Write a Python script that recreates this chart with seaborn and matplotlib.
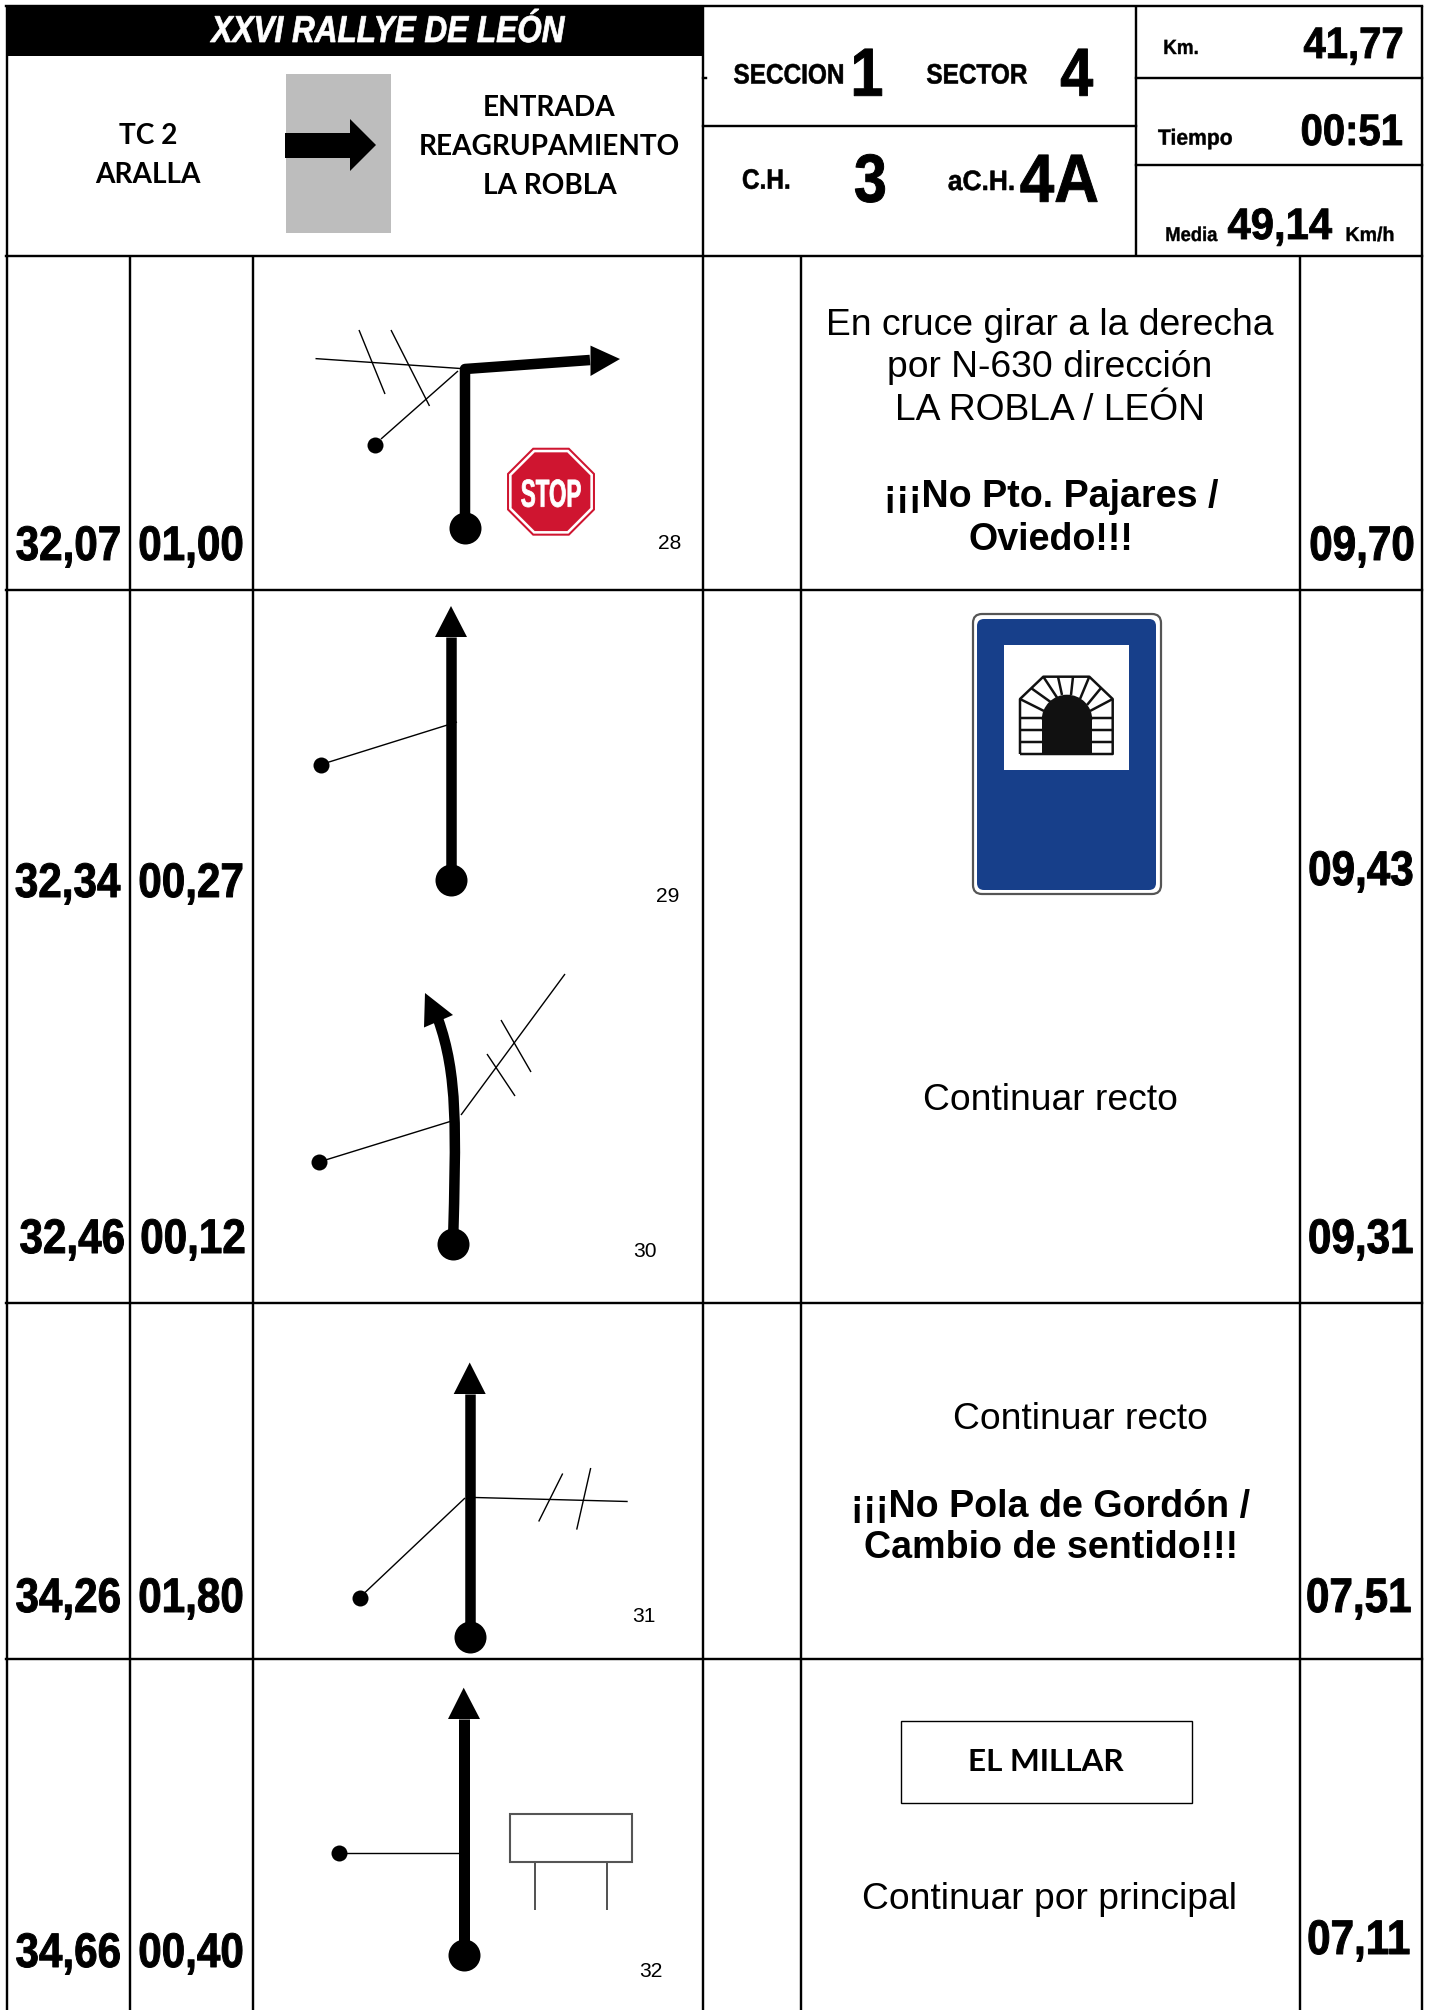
import matplotlib
matplotlib.use("Agg")
import matplotlib.pyplot as plt
from matplotlib.colors import to_rgba
from matplotlib.patches import FancyBboxPatch, PathPatch, Rectangle, RegularPolygon, Wedge
from matplotlib.path import Path
from matplotlib.text import Text
from matplotlib.textpath import TextPath
from matplotlib.transforms import Affine2D, Bbox
import numpy as np
import seaborn as sns

# roadbook values
km_total = ["32,07", "32,34", "32,46", "34,26", "34,66"]
km_partial = ["01,00", "00,27", "00,12", "01,80", "00,40"]
km_left = ["09,70", "09,43", "09,31", "07,51", "07,11"]
box_numbers = ["28", "29", "30", "31", "32"]

title = "XXVI RALLYE DE LEÓN"
entry_left = ["TC 2", "ARALLA"]
entry_right = ["ENTRADA", "REAGRUPAMIENTO", "LA ROBLA"]
note_1 = ["En cruce girar a la derecha", "por N-630 dirección", "LA ROBLA / LEÓN"]
note_1_bold = ["¡¡¡No Pto. Pajares /", "Oviedo!!!"]
note_3 = "Continuar recto"
note_4 = "Continuar recto"
note_4_bold = ["¡¡¡No Pola de Gordón /", "Cambio de sentido!!!"]
note_5_box = "EL MILLAR"
note_5 = "Continuar por principal"

# positions, in pixels of the page
total_xy = [(68, 560), (68, 897), (72, 1253), (68, 1612), (68, 1967)]
partial_xy = [(191, 560), (191, 897), (193, 1253), (191, 1612), (191, 1967)]
left_xy = [(1362, 560), (1361, 885), (1361, 1253), (1359, 1612), (1359, 1954)]
number_xy = [(670, 549), (668, 902), (645, 1257), (644, 1622), (651, 1977)]

ARIAL = ["Liberation Sans"]
CALIBRI = ["Lato"]

sns.set_theme(style="white")
fig, ax = plt.subplots(figsize=(14.3, 20.1), dpi=100)
fig.subplots_adjust(0, 0, 1, 1)
ax.set_facecolor("white")


class NarrowText(Text):
    # no hay Arial Narrow instalada: texto normal comprimido en horizontal
    sx = 0.87

    def draw(self, renderer):
        k = renderer.points_to_pixels(1.0)
        tp = TextPath((0, 0), self.get_text(), size=self.get_fontsize(), prop=self.get_fontproperties())
        bb = tp.get_extents()
        x, y = self.get_transform().transform(self.get_position())
        tr = Affine2D().scale(self.sx * k, k).translate(x - self.sx * k * (bb.x0 + bb.x1) / 2, y)
        rgba = to_rgba(self.get_color())
        gc = renderer.new_gc()
        gc.set_foreground(rgba)
        gc.set_linewidth(min(0.7, self.get_fontsize() * 0.02))
        renderer.draw_path(gc, tp, tr, rgbFace=rgba)
        gc.restore()

    def get_window_extent(self, renderer=None, dpi=None):
        b = super().get_window_extent(renderer, dpi)
        cx = (b.x0 + b.x1) / 2
        w = b.width * self.sx / 2
        return Bbox([[cx - w, b.y0], [cx + w, b.y1]])


def txt(x, y, s, px, family=ARIAL, weight="bold", style="normal", color="black"):
    ax.text(x, y, s, fontsize=px * 0.72, family=family, weight=weight, style=style,
            color=color, ha="center", va="baseline")


def ntxt(x, y, s, px, sx=0.87, style="normal", color="black"):
    t = NarrowText(x, y, s, fontsize=px * 0.72, family=ARIAL, weight="bold", style=style,
                   color=color, ha="center", va="baseline", zorder=6)
    t.sx = sx
    ax.add_artist(t)


def line(xs, ys, w=1.4, color="black", cap="butt"):
    sns.lineplot(x=xs, y=ys, sort=False, estimator=None, color=color, linewidth=w * 0.72,
                 solid_capstyle=cap, legend=False, ax=ax)


def road(xs, ys, head, w=10.5):
    # trazo grueso con punta de flecha y punto de salida
    line(xs, ys, w=w)
    ax.fill([p[0] for p in head], [p[1] for p in head], color="black", lw=0, zorder=4)
    sns.scatterplot(x=[xs[0]], y=[ys[0]], s=(32 * 0.72) ** 2, color="black", linewidth=0,
                    legend=False, ax=ax, zorder=4)


def dots(xs, ys):
    sns.scatterplot(x=xs, y=ys, s=(16 * 0.72) ** 2, color="black", linewidth=0,
                    legend=False, ax=ax, zorder=4)


# cabecera
ax.add_patch(Rectangle((6, 6), 697, 50, color="black", lw=0))
ax.add_patch(Rectangle((286, 74), 105, 159, color="#bdbdbd", lw=0))
ax.fill([285, 350, 350, 376, 350, 350, 285], [133, 133, 119, 145, 171, 158, 158], color="black", lw=0)

# rejilla
RIGHT = 1422
H_LINES = [(6, RIGHT, 6), (6, RIGHT, 255.5), (6, RIGHT, 589.5), (6, RIGHT, 1302.5), (6, RIGHT, 1659),
           (703, 1136, 125.5), (1136, RIGHT, 77.5), (1136, RIGHT, 165), (703, 706, 77.5)]
V_LINES = [(6.5, 6, 2010), (703, 6, 2010), (RIGHT, 6, 2010), (1136, 6, 255),
           (130, 255.5, 2010), (253, 255.5, 2010), (801, 255.5, 2010), (1300, 255.5, 2010)]
for x0, x1, y in H_LINES:
    line([x0, x1], [y, y], w=2.4, cap="projecting")
for x, y0, y1 in V_LINES:
    line([x, x], [y0, y1], w=2.4, cap="butt")

# textos de cabecera
ntxt(387.5, 42, title, 37.5, sx=0.84, style="italic", color="white")
for s, y in zip(entry_left, [143.5, 182.5]):
    txt(148, y, s, 28, family=CALIBRI)
for s, y in zip(entry_right, [116, 155, 194]):
    txt(549.5, y, s, 28, family=CALIBRI)

ntxt(788.5, 83.5, "SECCION", 28)
ntxt(868, 95.7, "1", 68)
ntxt(977, 83.5, "SECTOR", 28)
ntxt(1077, 95.7, "4", 68)
ntxt(766, 188.7, "C.H.", 28)
ntxt(870, 201.7, "3", 68)
ntxt(981, 190, "aC.H.", 28, sx=0.94)
ntxt(1059, 201.7, "4A", 68, sx=0.91)
ntxt(1181, 54, "Km.", 20.5, sx=0.92)
ntxt(1353, 58, "41,77", 44, sx=0.91)
ntxt(1195, 144.7, "Tiempo", 22, sx=0.96)
ntxt(1352, 145, "00:51", 44, sx=0.91)
ntxt(1192, 241, "Media", 20, sx=0.92)
ntxt(1280, 239, "49,14", 44, sx=0.95)
ntxt(1370, 241, "Km/h", 20, sx=0.98)

# columnas de distancias
for vals, coords in [(km_total, total_xy), (km_partial, partial_xy), (km_left, left_xy)]:
    for s, (x, y) in zip(vals, coords):
        ntxt(x, y, s, 48.5)
for s, (x, y) in zip(box_numbers, number_xy):
    txt(x, y, s, 21, weight="normal")

# notas
for s, y in zip(note_1, [335, 377, 420]):
    txt(1050, y, s, 37.3, weight="normal")
for s, y in zip(note_1_bold, [507, 550]):
    txt(1051, y, s, 37.6)
txt(1050, 1110, note_3, 37.3, weight="normal")
txt(1080, 1429, note_4, 37.3, weight="normal")
for s, y in zip(note_4_bold, [1517, 1558]):
    txt(1051, y, s, 37.6)
ax.add_patch(Rectangle((901, 1721), 291, 82, fc="white", ec="black", lw=1.0))
txt(1046, 1771, note_5_box, 31.5, family=CALIBRI)
txt(1050, 1909, note_5, 37.3, weight="normal")

# viñeta 28
road([465, 465, 590], [528, 369, 360], [(590.5, 345.6), (620, 359), (590.5, 376)])
line([315.5, 460.5], [358.6, 368.5])
line([359, 385], [330, 394])
line([391, 429.5], [330, 406])
line([458, 381], [371, 439])
dots([375], [445])
for r, c in [(47.6, "#cf1530"), (45.4, "white"), (42.6, "#cf1530")]:
    ax.add_patch(RegularPolygon((551, 491.7), 8, radius=r, orientation=np.pi / 8, fc=c, lw=0))
ntxt(551, 506.7, "STOP", 39, sx=0.574, color="white")

# viñeta 29
road([451, 451], [880, 637], [(435, 637), (451, 606), (467, 637)])
line([321, 457], [764.5, 722])
dots([321], [764.5])

# viñeta 30
curve = Path([(453, 1244), (456, 1130), (458, 1075), (438, 1019)],
             [Path.MOVETO, Path.CURVE4, Path.CURVE4, Path.CURVE4])
ax.add_patch(PathPatch(curve, fc="none", ec="black", lw=10.5 * 0.72, capstyle="butt"))
ax.fill([425, 453, 424], [993, 1015, 1027.5], color="black", lw=0, zorder=4)
sns.scatterplot(x=[453], y=[1244], s=(32 * 0.72) ** 2, color="black", linewidth=0, legend=False, ax=ax, zorder=4)
line([319, 451.7], [1162, 1121])
line([461, 565], [1115, 974])
line([487, 515], [1054, 1096])
line([501, 531], [1020, 1072])
dots([319], [1162])

# viñeta 31
road([469.7, 469.7], [1636.5, 1394], [(453.7, 1394), (469.7, 1362.5), (485.7, 1394)])
line([475, 627.7], [1497.5, 1501.5])
line([562.7, 538.7], [1473.5, 1521.5])
line([590.7, 576.7], [1468, 1529.6])
line([465, 359.7], [1498, 1597.5])
dots([359.7], [1597.5])

# viñeta 32
road([463.7, 463.7], [1955, 1719], [(448, 1719), (463.7, 1687.7), (480, 1719)], w=11)
line([339, 459], [1852.5, 1852.5])
dots([339], [1852.5])
ax.add_patch(Rectangle((510, 1813.6), 121.7, 48.4, fc="white", ec="#555555", lw=1.5))
line([535, 535], [1862, 1910], w=2, color="#555555")
line([607, 607], [1862, 1910], w=2, color="#555555")

# señal de túnel
ax.add_patch(FancyBboxPatch((973, 614), 188, 280, boxstyle="round,pad=0,rounding_size=9",
                            fc="white", ec="#555555", lw=1.6))
ax.add_patch(FancyBboxPatch((977, 619), 179, 271, boxstyle="round,pad=0,rounding_size=7",
                            fc="#173f8a", ec="none", lw=0))
ax.add_patch(Rectangle((1004, 645), 125, 125, fc="white", lw=0))
line([1020, 1020, 1043.3, 1089.3, 1112.7, 1112.7, 1020], [754, 699, 676.7, 676.7, 699, 754, 754], w=2.5, color="#111111")
for y in [718, 730, 742]:
    line([1020, 1042], [y, y], w=2.5, color="#111111")
    line([1092, 1112.7], [y, y], w=2.5, color="#111111")
spokes = [(1020, 699, 1044, 711), (1031, 688, 1052, 703), (1043.3, 676.7, 1058, 699),
          (1058, 676.7, 1062, 695), (1073, 676.7, 1071, 695), (1089.3, 676.7, 1080, 699),
          (1101, 688, 1087, 705), (1112.7, 699, 1090, 711)]
for x0, y0, x1, y1 in spokes:
    line([x0, x1], [y0, y1], w=2.5, color="#111111")
ax.add_patch(Wedge((1067, 720), 25.3, 180, 360, fc="#111111", lw=0, zorder=3))
ax.add_patch(Rectangle((1041.7, 720), 50.6, 34, fc="#111111", lw=0, zorder=3))

ax.set_xlim(0, 1430)
ax.set_ylim(2010, 0)
ax.axis("off")
fig.savefig("out.png", dpi=100, facecolor="white")
